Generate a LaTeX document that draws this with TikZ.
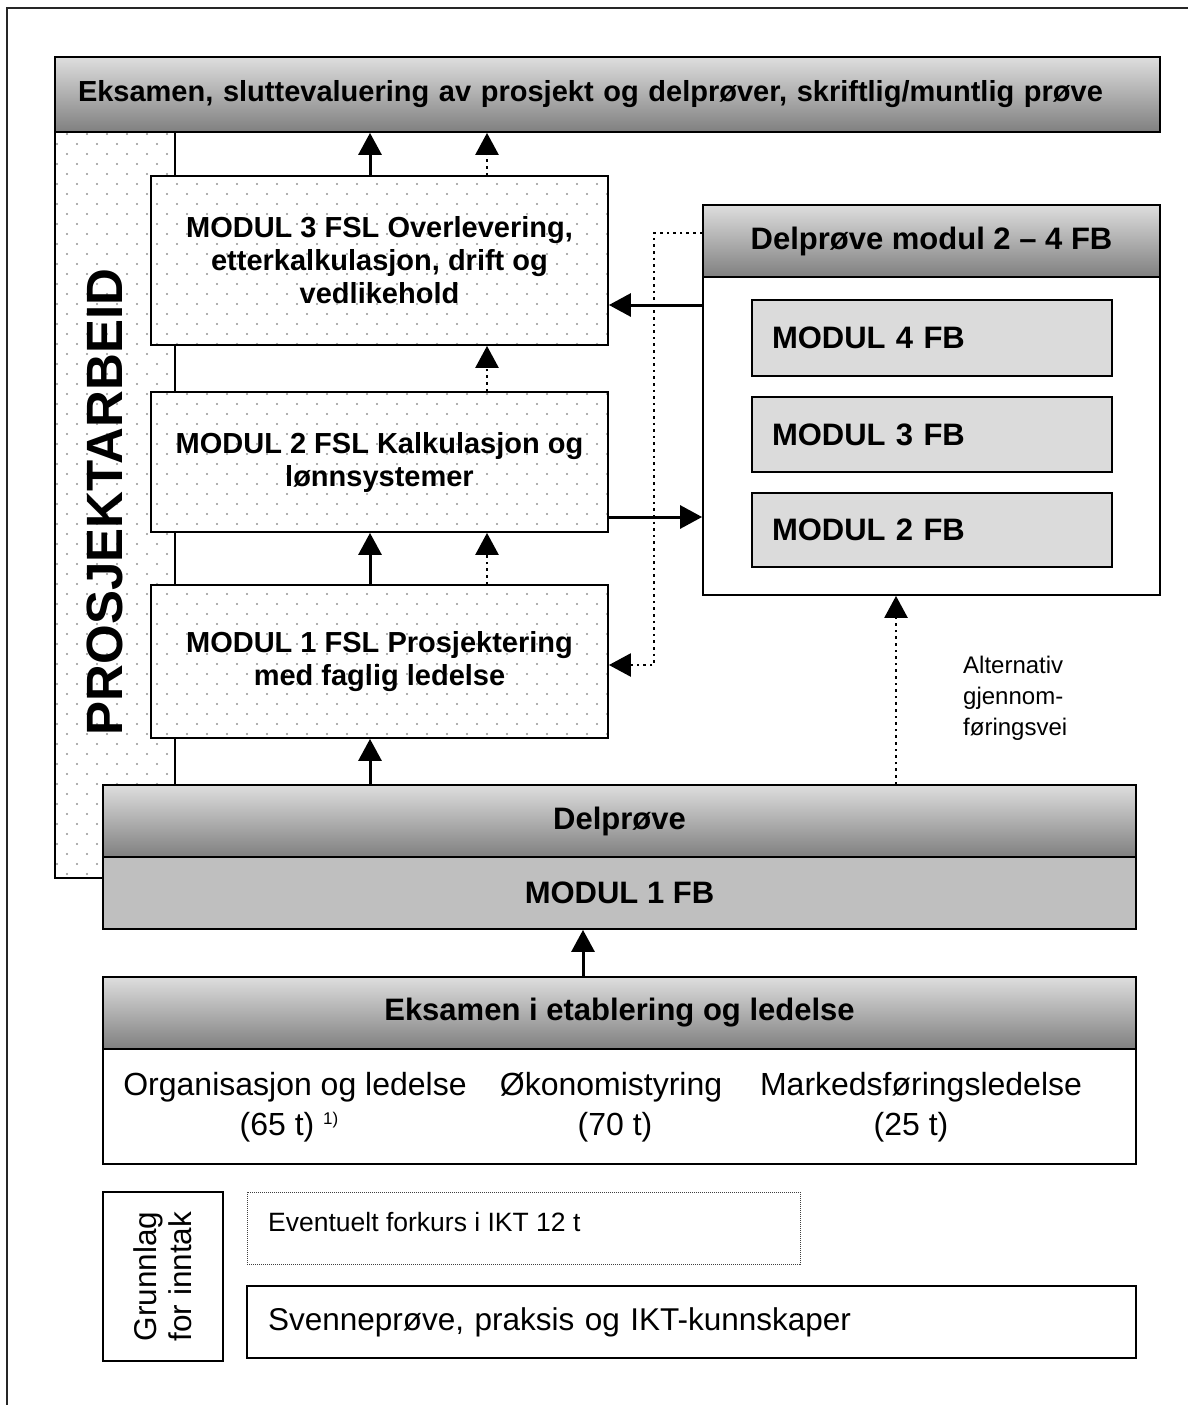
\documentclass[tikz,border=0pt]{standalone}
\usepackage{fontspec}
\setmainfont{Liberation Sans}
\usetikzlibrary{arrows.meta}
\definecolor{dotc}{gray}{0.58}
\definecolor{fbfill}{gray}{0.86}
\definecolor{mfbfill}{gray}{0.75}
\definecolor{framec}{gray}{0.15}
\newcommand\dotsbox[4]{%
  \begin{scope}
  \fill[white] (#1,#2) rectangle (#3,#4);
  \clip (#1,#2) rectangle (#3,#4);
  \pgfmathtruncatemacro\ja{#2/10}%
  \pgfmathtruncatemacro\jb{#4/10+1}%
  \pgfmathtruncatemacro\ia{#1/20-1}%
  \pgfmathtruncatemacro\ib{#3/20+1}%
  \foreach \j in {\ja,...,\jb}{\foreach \i in {\ia,...,\ib}{%
    \fill[dotc] ({\i*20+mod(\j+1,2)*10+7},{\j*10+4}) circle (1.2pt);}}
  \end{scope}}
\tikzset{
  box/.style={draw=black, line width=1.8pt, rectangle, inner sep=0pt},
  grad/.style={top color=black!13, bottom color=black!50},
  solidarr/.style={line width=3pt, -{Triangle[length=22pt,width=23pt]}},
  dotarr/.style={line width=2.6pt, dash pattern=on 2.6pt off 4pt, -{Triangle[length=22pt,width=23pt]}},
  bt/.style={font=\bfseries\fontsize{29}{33}\selectfont, align=center},
  hb/.style={font=\bfseries\fontsize{31}{36}\selectfont},
  reg/.style={font=\fontsize{32}{36}\selectfont, inner sep=0pt},
}
\begin{document}
\begin{tikzpicture}[x=1pt, y=-1pt]
\useasboundingbox (0,0) rectangle (1188,1405);
% outer frame
\draw[framec, line width=2pt] (7,1405) -- (7,8) -- (1188,8);

% column PROSJEKTARBEID
\dotsbox{55}{132}{175}{878}
\node[box, minimum width=120pt, minimum height=746pt] (col) at (115,505) {};
\node[rotate=90, font=\bfseries\fontsize{51}{56}\selectfont] (pa) at (105,502) {PROSJEKTARBEID};

% top bar
\node[box, grad, minimum width=1105pt, minimum height=75pt, text width=1059pt, inner xsep=23pt, align=left,
      font=\bfseries\fontsize{29}{33}\selectfont] (top) at (607.5,94.5)
      {Eksamen, sluttevaluering av prosjekt og delprøver, skriftlig/muntlig prøve};

% FSL modules
\dotsbox{151}{176}{608}{345}
\node[box, bt, minimum width=457pt, minimum height=169pt] (m3) at (379.5,260.5)
  {MODUL 3 FSL Overlevering,\\etterkalkulasjon, drift og\\vedlikehold};
\dotsbox{151}{392}{608}{532}
\node[box, bt, minimum width=457pt, minimum height=140pt] (m2) at (379.5,462)
  {MODUL 2 FSL Kalkulasjon og\\lønnsystemer};
\dotsbox{151}{585}{608}{738}
\node[box, bt, minimum width=457pt, minimum height=153pt] (m1) at (379.5,661.5)
  {MODUL 1 FSL Prosjektering\\med faglig ledelse};

% right block
\node[box, fill=white, minimum width=457pt, minimum height=390pt] (rbox) at (931.5,400) {};
\node[box, grad, hb, minimum width=457pt, minimum height=72pt] (rhead) at (931.5,241) {Delprøve modul 2 – 4 FB};
\node[box, fill=fbfill, hb, minimum height=76pt, text width=320pt, inner xsep=20pt, align=left] (fb4) at (932,338) {MODUL 4 FB};
\node[box, fill=fbfill, hb, minimum height=75pt, text width=320pt, inner xsep=20pt, align=left] (fb3) at (932,434.5) {MODUL 3 FB};
\node[box, fill=fbfill, hb, minimum height=74pt, text width=320pt, inner xsep=20pt, align=left] (fb2) at (932,530) {MODUL 2 FB};

% Delprøve / MODUL 1 FB
\node[box, grad, hb, minimum width=1033pt, minimum height=72pt] (delp) at (619.5,821) {Delprøve};
\node[box, fill=mfbfill, hb, minimum width=1033pt, minimum height=72pt] (m1fb) at (619.5,893) {MODUL 1 FB};

% Eksamen i etablering og ledelse
\node[box, grad, hb, minimum width=1033pt, minimum height=72pt] (eks) at (619.5,1013) {Eksamen i etablering og ledelse};
\node[box, fill=white, minimum width=1033pt, minimum height=115pt] (eksb) at (619.5,1106.5) {};
\node[reg] (t1a) at (295,1087) {Organisasjon og ledelse};
\node[reg] (t1b) at (289,1127) {(65 t) \raisebox{11pt}{\fontsize{17}{17}\selectfont 1)}};
\node[reg] (t2a) at (611,1087) {Økonomistyring};
\node[reg] (t2b) at (615,1127) {(70 t)};
\node[reg] (t3a) at (921,1087) {Markedsføringsledelse};
\node[reg] (t3b) at (911,1127) {(25 t)};

% Grunnlag for inntak
\node[box, minimum width=120pt, minimum height=169pt] (grb) at (163,1276.5) {};
\node[rotate=90, align=center, font=\fontsize{31.5}{35}\selectfont] (gr) at (163,1276.5) {Grunnlag\\for inntak};
\node[draw=black!75, line width=0.9pt, dash pattern=on 1pt off 1pt, minimum width=553pt, minimum height=72pt,
      inner sep=0pt] (ev) at (523.5,1228) {};
\node[anchor=west, inner sep=0pt, font=\fontsize{26.5}{30}\selectfont] (evt) at (268,1222) {Eventuelt forkurs i IKT 12 t};
\node[box, minimum width=889pt, minimum height=72pt, text width=847pt, inner xsep=21pt, align=left,
      font=\fontsize{31.5}{35}\selectfont] (sv) at (691.5,1322) {Svenneprøve, praksis og IKT-kunnskaper};

% label
\node[align=left, anchor=west, font=\fontsize{24}{31}\selectfont, inner sep=0pt] (alt) at (963,698)
  {Alternativ\\gjennom-\\føringsvei};

% connector columns
\coordinate (xa) at (370,0);
\coordinate (xb) at (487,0);
\coordinate (xc) at (583,0);
\coordinate (xd) at (896,0);

\draw[solidarr] (m3.north -| xa) -- (top.south -| xa);
\draw[dotarr] (m3.north -| xb) -- (top.south -| xb);
\draw[dotarr] (m2.north -| xb) -- (m3.south -| xb);
\draw[solidarr] (m1.north -| xa) -- (m2.south -| xa);
\draw[dotarr] (m1.north -| xb) -- (m2.south -| xb);
\draw[solidarr] (delp.north -| xa) -- (m1.south -| xa);
\draw[solidarr] (eks.north -| xc) -- (m1fb.south -| xc);
\draw[dotarr] (delp.north -| xd) -- (rbox.south -| xd);
\draw[solidarr] ([yshift=-55pt]m2.east) -- ([yshift=-55pt]m2.east -| rbox.west);
\draw[solidarr] ([yshift=-44.5pt]m3.east -| rbox.west) -- ([yshift=-44.5pt]m3.east);
\draw[dotarr] ([yshift=8pt]rhead.west) -- ++(-48,0) |- ([yshift=-3.5pt]m1.east);
\end{tikzpicture}
\end{document}
